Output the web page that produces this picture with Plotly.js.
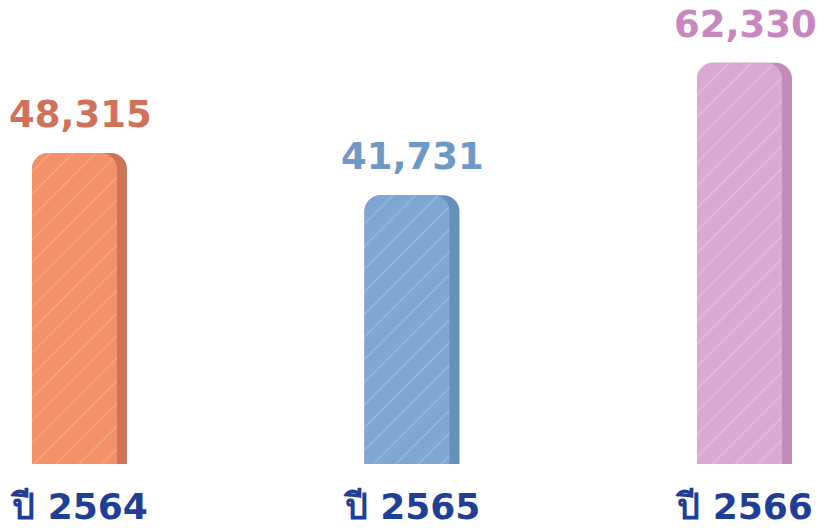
<!DOCTYPE html>
<html>
<head>
<meta charset="utf-8">
<script src="https://cdn.plot.ly/plotly-3.0.1.min.js"></script>
<style>html,body{margin:0;padding:0;background:#fff;}#chart{width:825px;height:529px;}</style>
</head>
<body>
<div id="chart"></div>
<script>
var categories = ["ปี 2564", "ปี 2565", "ปี 2566"];
var values = [48315, 41731, 62330];
var faceColors = ["#f4906a", "#7fa7d2", "#d9a9d3"];
var hatchColors = ["#f8ab8c", "#9dbde0", "#e5c0e0"];
var sideColors = ["#cc7556", "#6590bb", "#c28cba"];
var labelColors = ["#d2715a", "#6e99c6", "#c888bf"];

var xs = categories.map(function(c, i){ return i; });

var traces = [];
values.forEach(function(v, i){
  traces.push({
    type: "bar", x: [xs[i]], y: [v],
    width: 0.2857, offset: -0.1444,
    marker: { color: sideColors[i], cornerradius: 16, line: {width: 0} },
    showlegend: false
  });
  traces.push({
    type: "bar", x: [xs[i]], y: [v],
    width: 0.2556, offset: -0.1444,
    marker: {
      color: faceColors[i], cornerradius: 16, line: {width: 0},
      pattern: { shape: "/", fgcolor: hatchColors[i], bgcolor: faceColors[i], size: 16, solidity: 0.08, fillmode: "replace" }
    },
    showlegend: false
  });
});

var annotations = values.map(function(v, i){
  return {
    x: i, y: v, xref: "x", yref: "y",
    text: v.toLocaleString("en-US"),
    showarrow: false, yanchor: "bottom", yshift: 15,
    font: { family: "DejaVu Sans, sans-serif", size: 37, color: labelColors[i], weight: "bold" }
  };
});

var layout = {
  width: 825, height: 529,
  margin: { l: 0, r: 0, t: 0, b: 65 },
  paper_bgcolor: "#ffffff", plot_bgcolor: "#ffffff",
  barmode: "overlay",
  xaxis: {
    type: "linear",
    range: [-0.2406, 2.2406],
    tickmode: "array", tickvals: xs, ticktext: categories,
    showgrid: false, zeroline: false, showline: false, ticks: "",
    tickfont: { family: "DejaVu Sans, Noto Sans, sans-serif", size: 36, color: "#1f3f96", weight: "bold" },
    ticklabelstandoff: 18
  },
  yaxis: { range: [0, 72080], visible: false, showgrid: false, zeroline: false },
  annotations: annotations
};

Plotly.newPlot("chart", traces, layout, { staticPlot: true });
</script>
</body>
</html>
